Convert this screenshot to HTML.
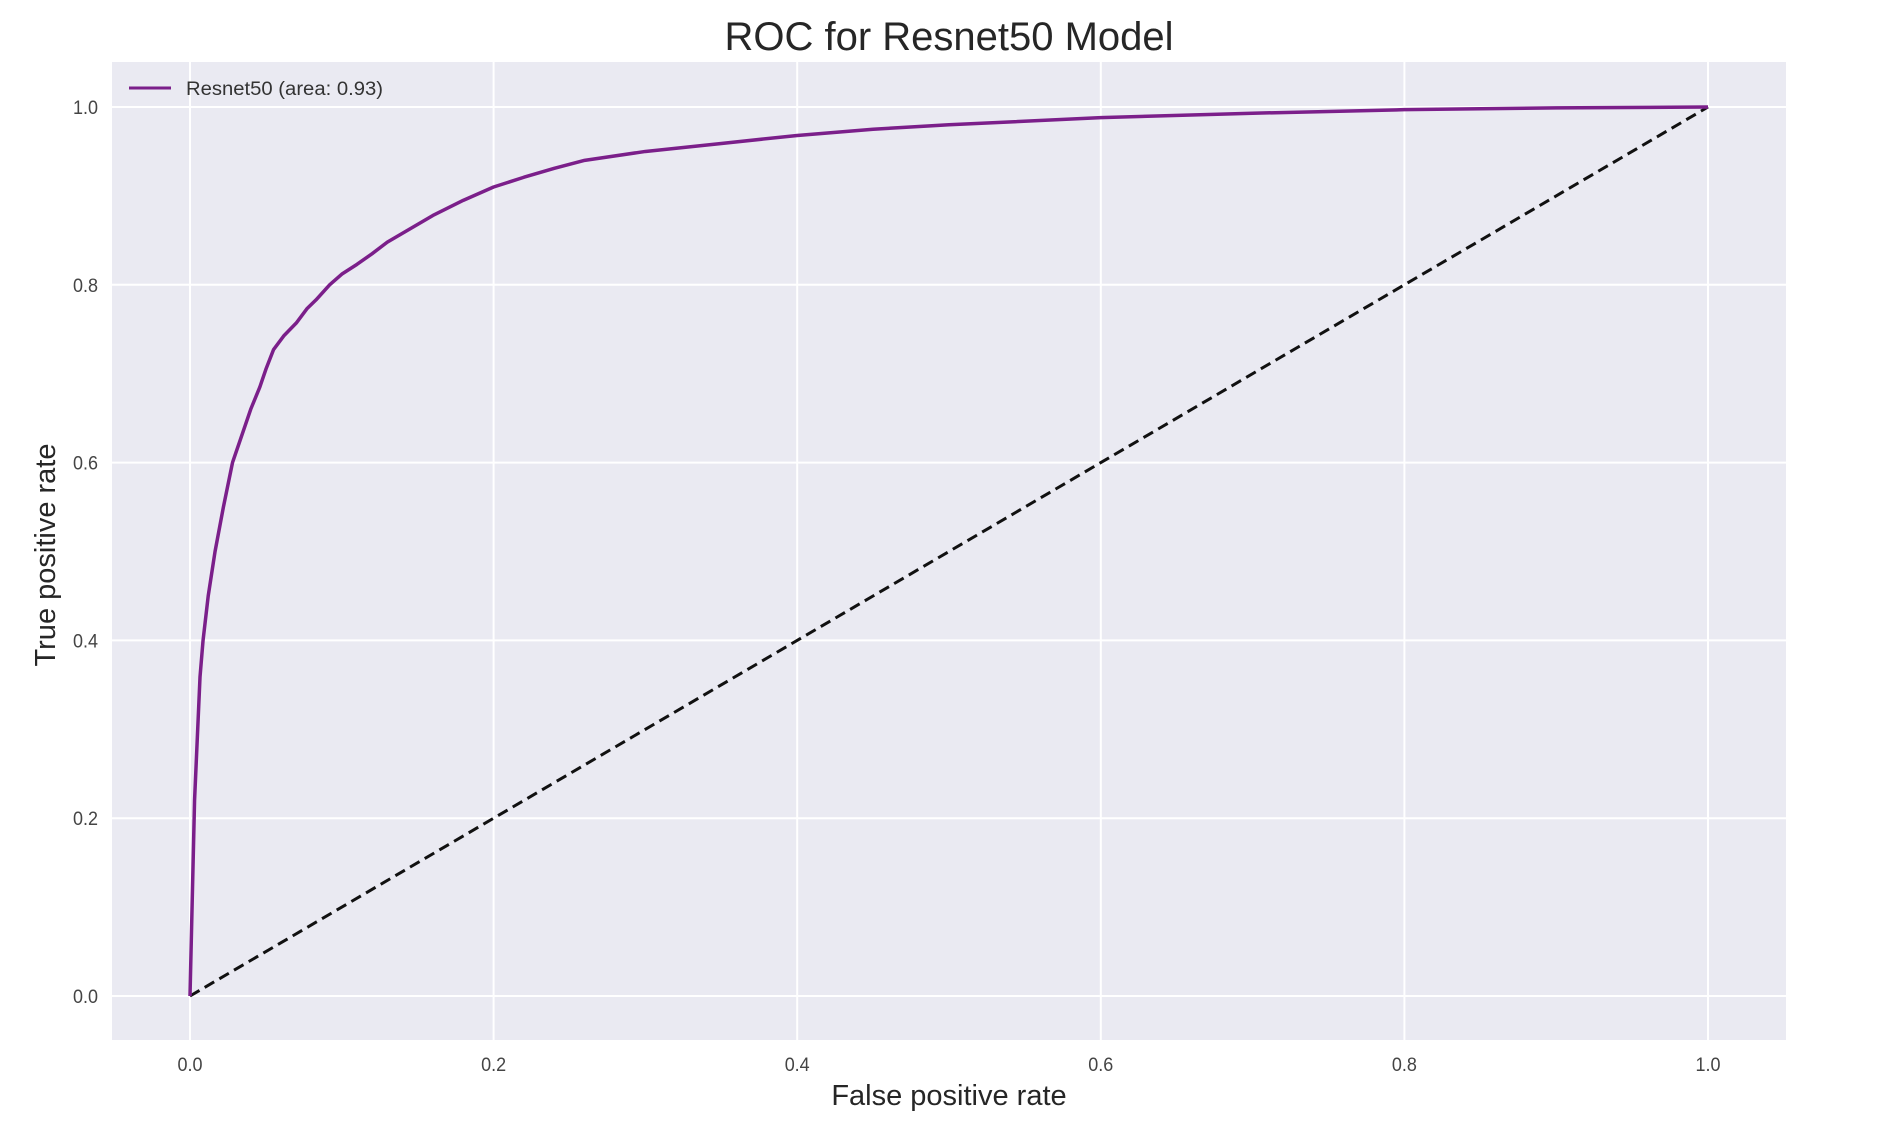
<!DOCTYPE html>
<html><head><meta charset="utf-8">
<style>
html,body{margin:0;padding:0;background:#fff;}
svg{display:block;font-family:"Liberation Sans",Arial,sans-serif;}
</style></head>
<body>
<svg id="chart" width="1880" height="1124" viewBox="0 0 1880 1124" xmlns="http://www.w3.org/2000/svg">
<rect x="112" y="62" width="1674" height="978" fill="#eaeaf2"/>
<g id="grid"></g>
<g id="ticks"></g>
<g id="series"></g>
<text x="949" y="50" text-anchor="middle" font-size="40" fill="#262626">ROC for Resnet50 Model</text>
<text x="949" y="1105" text-anchor="middle" font-size="29" fill="#262626">False positive rate</text>
<text transform="translate(55,555) rotate(-90)" text-anchor="middle" font-size="29" fill="#262626">True positive rate</text>
<g>
<line x1="129" y1="88" x2="171" y2="88" stroke="#7b1f8a" stroke-width="3"/>
<text x="186" y="95" font-size="19" fill="#333" textLength="197" lengthAdjust="spacingAndGlyphs">Resnet50 (area: 0.93)</text>
</g>
</svg>
<script>
const xTicks = [0, 0.2, 0.4, 0.6, 0.8, 1.0];
const yTicks = [0, 0.2, 0.4, 0.6, 0.8, 1.0];
const tickLabels = ["0.0", "0.2", "0.4", "0.6", "0.8", "1.0"];
const fpr = [0, 0.003, 0.0066, 0.0086, 0.012, 0.0165, 0.022, 0.028, 0.034, 0.04, 0.046, 0.05, 0.055, 0.062, 0.07, 0.077, 0.083, 0.092, 0.1, 0.11, 0.12, 0.13, 0.14, 0.15, 0.16, 0.18, 0.2, 0.22, 0.24, 0.26, 0.3, 0.35, 0.4, 0.45, 0.5, 0.6, 0.7, 0.8, 0.9, 1.0];
const tpr = [0, 0.22, 0.359, 0.4, 0.45, 0.5, 0.55, 0.6, 0.63, 0.66, 0.685, 0.705, 0.727, 0.743, 0.757, 0.773, 0.783, 0.8, 0.812, 0.823, 0.835, 0.848, 0.858, 0.868, 0.878, 0.895, 0.91, 0.921, 0.931, 0.94, 0.95, 0.959, 0.968, 0.975, 0.98, 0.988, 0.993, 0.997, 0.999, 1.0];
const chanceX = [0, 1];
const chanceY = [0, 1];

const X = v => 190 + v * 1518;
const Y = v => 996 - v * 889;
const NS = "http://www.w3.org/2000/svg";
const grid = document.getElementById('grid');
const ticks = document.getElementById('ticks');
const series = document.getElementById('series');

xTicks.forEach((t, i) => {
  const l = document.createElementNS(NS, 'line');
  
  
  l.setAttribute('x1', X(t)); l.setAttribute('x2', X(t));
  l.setAttribute('y1', 62); l.setAttribute('y2', 1040);
  l.setAttribute('stroke', '#fff'); l.setAttribute('stroke-width', '2');
  grid.appendChild(l);
  const tx = document.createElementNS(NS, 'text');
  
  
  tx.setAttribute('x', X(t)); tx.setAttribute('y', 1071);
  tx.setAttribute('text-anchor', 'middle'); tx.setAttribute('font-size', '19'); tx.setAttribute('fill', '#444');
  tx.setAttribute('textLength', '25'); tx.setAttribute('lengthAdjust', 'spacingAndGlyphs');
  tx.textContent = tickLabels[i];
  ticks.appendChild(tx);
});
yTicks.forEach((t, i) => {
  const l = document.createElementNS(NS, 'line');
  
  
  l.setAttribute('x1', 112); l.setAttribute('x2', 1786);
  l.setAttribute('y1', Y(t)); l.setAttribute('y2', Y(t));
  l.setAttribute('stroke', '#fff'); l.setAttribute('stroke-width', '2');
  grid.appendChild(l);
  const tx = document.createElementNS(NS, 'text');
  
  
  tx.setAttribute('x', 98); tx.setAttribute('y', Y(t) + 7);
  tx.setAttribute('text-anchor', 'end'); tx.setAttribute('font-size', '19'); tx.setAttribute('fill', '#444');
  tx.setAttribute('textLength', '25'); tx.setAttribute('lengthAdjust', 'spacingAndGlyphs');
  tx.textContent = tickLabels[i];
  ticks.appendChild(tx);
});

const chance = document.createElementNS(NS, 'polyline');


chance.setAttribute('points', chanceX.map((v, i) => X(v) + ',' + Y(chanceY[i])).join(' '));
chance.setAttribute('fill', 'none'); chance.setAttribute('stroke', '#111');
chance.setAttribute('stroke-width', '3'); chance.setAttribute('stroke-dasharray', '11,6');
series.appendChild(chance);

const roc = document.createElementNS(NS, 'polyline');


roc.setAttribute('points', fpr.map((v, i) => X(v) + ',' + Y(tpr[i])).join(' '));
roc.setAttribute('fill', 'none'); roc.setAttribute('stroke', '#7b1f8a');
roc.setAttribute('stroke-width', '3.5'); roc.setAttribute('stroke-linejoin', 'round');
series.appendChild(roc);
</script>
</body></html>
